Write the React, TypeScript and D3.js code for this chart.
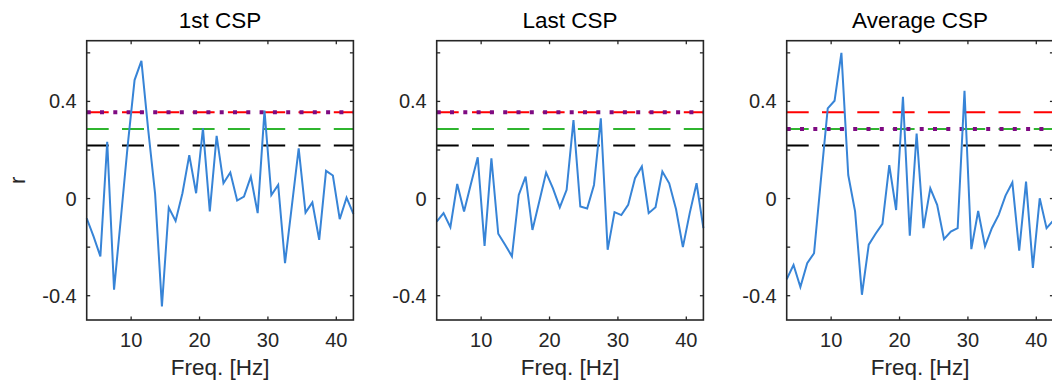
import * as d3 from 'd3';

// frequency bins (Hz)
const freqs = [
  3.5, 4.5, 5.5, 6.5, 7.5, 8.5, 9.5, 10.5, 11.5, 12.5,
  13.5, 14.5, 15.5, 16.5, 17.5, 18.5, 19.5, 20.5, 21.5, 22.5,
  23.5, 24.5, 25.5, 26.5, 27.5, 28.5, 29.5, 30.5, 31.5, 32.5,
  33.5, 34.5, 35.5, 36.5, 37.5, 38.5, 39.5, 40.5, 41.5, 42.5,
];

const firstCsp = [
  -0.081, -0.156, -0.238, 0.234, -0.375, -0.08, 0.22, 0.488, 0.567, 0.282,
  0.02, -0.444, -0.037, -0.092, 0.022, 0.179, 0.022, 0.289, -0.053, 0.258,
  0.063, 0.107, -0.008, 0.008, 0.09, -0.06, 0.362, 0.014, 0.056, -0.266,
  -0.03, 0.207, -0.058, -0.016, -0.17, 0.114, 0.095, -0.085, 0.004, -0.063,
];

const lastCsp = [
  -0.095, -0.06, -0.118, 0.06, -0.053, 0.06, 0.17, -0.195, 0.166, -0.145,
  -0.19, -0.238, 0.015, 0.09, -0.129, -0.012, 0.107, 0.042, -0.036, 0.036,
  0.323, -0.033, -0.041, 0.056, 0.33, -0.211, -0.056, -0.068, -0.026, 0.084,
  0.132, -0.06, -0.036, 0.111, 0.063, -0.044, -0.2, -0.06, 0.063, -0.122,
];

const avgCsp = [
  -0.332, -0.273, -0.364, -0.266, -0.225, 0.077, 0.371, 0.403, 0.6, 0.097,
  -0.053, -0.396, -0.19, -0.145, -0.104, 0.138, -0.047, 0.419, -0.153, 0.268,
  -0.122, 0.042, -0.026, -0.167, -0.136, -0.122, 0.444, -0.208, -0.051, -0.197,
  -0.122, -0.067, 0.012, 0.066, -0.214, 0.07, -0.286, 0.001, -0.122, -0.09,
];

const panelTitles = ['1st CSP', 'Last CSP', 'Average CSP'];
const panelSeries = [firstCsp, lastCsp, avgCsp];

// significance thresholds
const redLevel = 0.355;
const greenLevel = 0.286;
const blackLevel = 0.219;
const purpleLevels = [0.355, 0.355, 0.286];

const xTicks = [10, 20, 30, 40];
const yTicks = [-0.4, -0.2, 0, 0.2, 0.4, 0.6];
const yTickLabels = [-0.4, 0, 0.4];

const width = 1052;
const height = 383;
const panelW = 266.7;
const panelH = 279.3;
const panelTop = 40.7;
const panelLefts = [86.7, 436.7, 786.7];

const font = "'Liberation Sans', Arial, Helvetica, sans-serif";
const axisColor = '#262626';
const tickLen = 3.5;

export default function App() {
  const x = d3.scaleLinear().domain([3.5, 42.5]).range([0, panelW]);
  const y = d3.scaleLinear().domain([-0.5, 0.65]).range([panelH, 0]);

  const line = d3
    .line<number>()
    .x((_, i) => x(freqs[i]))
    .y((d) => y(d));

  const hLine = (level: number, color: string, dash: string, w: number, key: string) => (
    <line
      key={key}
      x1={0}
      x2={panelW}
      y1={y(level)}
      y2={y(level)}
      stroke={color}
      strokeWidth={w}
      strokeDasharray={dash}
    />
  );

  return (
    <>
      <style>{'body{margin:0}'}</style>
      <svg width={width} height={height} style={{ display: 'block' }} fontFamily={font}>
        <rect width={width} height={height} fill="#fff" />
        {panelSeries.map((series, p) => (
          <g key={p} transform={`translate(${panelLefts[p]},${panelTop})`}>
            <text
              x={panelW / 2}
              y={-13}
              textAnchor="middle"
              fontSize={22.5}
              fill="#000"
            >
              {panelTitles[p]}
            </text>

            {hLine(redLevel, '#ff0000', '22 13.3', 2, 'red')}
            {hLine(greenLevel, '#2fb52f', '22 13.3', 2, 'green')}
            {hLine(blackLevel, '#000', '22 13.3', 2, 'black')}
            {hLine(purpleLevels[p], '#7e0a82', '4 9.3', 4, 'purple')}

            <path
              d={line(series) ?? ''}
              fill="none"
              stroke="#3784d7"
              strokeWidth={2}
              strokeLinejoin="miter"
            />

            {/* ticks */}
            {xTicks.map((t) => (
              <g key={`x${t}`}>
                <line x1={x(t)} x2={x(t)} y1={panelH} y2={panelH - tickLen} stroke={axisColor} strokeWidth={1.3} />
                <line x1={x(t)} x2={x(t)} y1={0} y2={tickLen} stroke={axisColor} strokeWidth={1.3} />
                <text x={x(t)} y={panelH + 27} textAnchor="middle" fontSize={20} fill={axisColor}>
                  {t}
                </text>
              </g>
            ))}
            {yTicks.map((t) => (
              <g key={`y${t}`}>
                <line x1={0} x2={tickLen} y1={y(t)} y2={y(t)} stroke={axisColor} strokeWidth={1.3} />
                <line x1={panelW} x2={panelW - tickLen} y1={y(t)} y2={y(t)} stroke={axisColor} strokeWidth={1.3} />
              </g>
            ))}
            {yTickLabels.map((t) => (
              <text
                key={`yl${t}`}
                x={-10}
                y={y(t)}
                dy="0.35em"
                textAnchor="end"
                fontSize={20}
                fill={axisColor}
              >
                {t === 0 ? '0' : d3.format('.1f')(t).replace('−', '-')}
              </text>
            ))}

            <rect
              x={0}
              y={0}
              width={panelW}
              height={panelH}
              fill="none"
              stroke={axisColor}
              strokeWidth={1.6}
            />

            <text
              x={panelW / 2}
              y={panelH + 55}
              textAnchor="middle"
              fontSize={22.5}
              fill={axisColor}
            >
              Freq. [Hz]
            </text>

            {p === 0 && (
              <text
                transform={`translate(${25 - panelLefts[0]},${panelH / 2}) rotate(-90)`}
                textAnchor="middle"
                fontSize={22.5}
                fill={axisColor}
              >
                r
              </text>
            )}
          </g>
        ))}
      </svg>
    </>
  );
}
